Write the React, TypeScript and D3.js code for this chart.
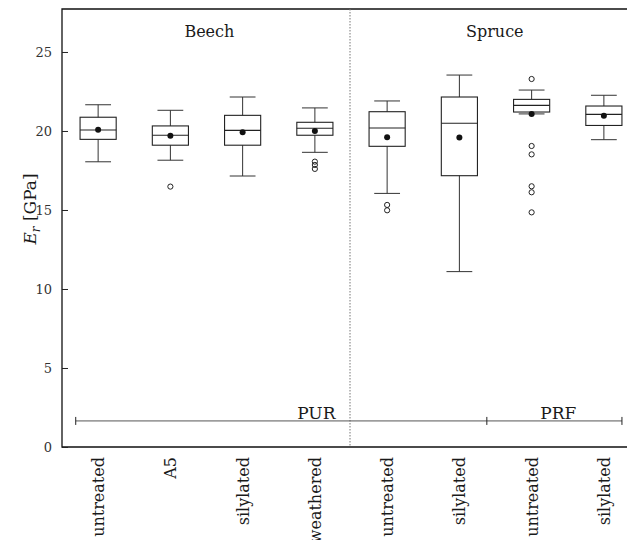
import React, { useEffect, useRef } from 'react';
import * as d3 from 'd3';

// categories along x (Beech: 4, Spruce: 4)
const categories = ['untreated', 'A5', 'silylated', 'weathered', 'untreated', 'silylated', 'untreated', 'silylated'];
const whiskerLow = [18.05, 18.15, 17.15, 18.65, 16.05, 11.1, 21.08, 19.45];
const q1 = [19.47, 19.1, 19.1, 19.73, 19.03, 17.17, 21.2, 20.35];
const median = [20.06, 19.73, 20.04, 20.17, 20.19, 20.49, 21.62, 21.05];
const q3 = [20.87, 20.32, 20.99, 20.55, 21.22, 22.15, 22.0, 21.58];
const whiskerHigh = [21.66, 21.31, 22.15, 21.46, 21.9, 23.54, 22.59, 22.26];
const means = [20.08, 19.7, 19.92, 20.0, 19.6, 19.58, 21.08, 20.97];
const outliers = [[], [16.48], [], [18.06, 17.85, 17.6], [15.32, 14.98], [], [23.29, 19.05, 18.52, 16.5, 16.12, 14.85], []];

const yTicks = [0, 5, 10, 15, 20, 25];
const species = [
  { name: 'Beech', at: 1.54 },
  { name: 'Spruce', at: 5.49 },
];
// adhesive brackets, in category-index units
const adhesives = [
  { name: 'PUR', from: -0.31, to: 5.38, labelAt: 3.02 },
  { name: 'PRF', from: 5.38, to: 7.25, labelAt: 6.37 },
];
const adhesiveLevel = 1.65;

const W = 627;
const H = 540;

const App = () => {
  const svgRef = useRef<SVGSVGElement>(null);

  useEffect(() => {
    const svg = d3.select(svgRef.current);
    svg.selectAll('*').remove();

    const left = 62, top = 9, bottom = 447, right = 640;
    const font = "'DejaVu Serif', 'Liberation Serif', serif";
    const ink = '#1a1a1a';

    const x = d3.scaleBand<number>().domain(d3.range(categories.length)).range([left, right]).padding(0);
    const xi = d3.scaleLinear().domain([0, categories.length - 1])
      .range([x(0)! + x.bandwidth() / 2, x(categories.length - 1)! + x.bandwidth() / 2]);
    const y = d3.scaleLinear().domain([0, 27.72]).range([bottom, top]);

    const g = svg.append('g');

    // frame
    g.append('path')
      .attr('d', `M${right},${top}H${left}V${bottom}H${right}`)
      .attr('fill', 'none').attr('stroke', '#111').attr('stroke-width', 1.3);

    // species divider
    g.append('line')
      .attr('x1', x(4)! - 1).attr('x2', x(4)! - 1).attr('y1', top).attr('y2', bottom)
      .attr('stroke', '#777').attr('stroke-width', 1).attr('stroke-dasharray', '1.5,1.5');

    // y axis
    const yAxis = d3.axisLeft(y).tickValues(yTicks).tickSize(-6).tickPadding(10).tickFormat(d3.format('d'));
    const ya = g.append('g').attr('transform', `translate(${left},0)`).call(yAxis);
    ya.select('.domain').remove();
    ya.selectAll('line').attr('stroke', '#222');
    ya.selectAll('text').attr('font-family', font).attr('font-size', 13).attr('fill', '#333');

    // y title
    const yt = g.append('text')
      .attr('transform', `translate(36,209) rotate(-90)`)
      .attr('text-anchor', 'middle').attr('font-family', font).attr('font-size', 17).attr('fill', ink);
    yt.append('tspan').attr('font-style', 'italic').text('E');
    yt.append('tspan').attr('font-style', 'italic').attr('font-size', 12).attr('dy', 4).text('r');
    yt.append('tspan').attr('dy', -4).text(' [GPa]');

    // species labels
    g.selectAll('.species').data(species).enter().append('text')
      .attr('x', d => xi(d.at)).attr('y', 37)
      .attr('text-anchor', 'middle').attr('font-family', font).attr('font-size', 16).attr('fill', ink)
      .text(d => d.name);

    // boxes
    const bw = x.bandwidth() / 2;
    const cap = x.bandwidth() / 2.8;
    const stroke = '#333';
    categories.forEach((_, i) => {
      const cx = xi(i);
      const b = g.append('g');
      b.append('line').attr('x1', cx).attr('x2', cx).attr('y1', y(q3[i])).attr('y2', y(whiskerHigh[i])).attr('stroke', stroke);
      b.append('line').attr('x1', cx).attr('x2', cx).attr('y1', y(q1[i])).attr('y2', y(whiskerLow[i])).attr('stroke', stroke);
      b.append('line').attr('x1', cx - cap / 2).attr('x2', cx + cap / 2).attr('y1', y(whiskerHigh[i])).attr('y2', y(whiskerHigh[i])).attr('stroke', stroke);
      b.append('line').attr('x1', cx - cap / 2).attr('x2', cx + cap / 2).attr('y1', y(whiskerLow[i])).attr('y2', y(whiskerLow[i])).attr('stroke', stroke);
      b.append('rect').attr('x', cx - bw / 2).attr('width', bw)
        .attr('y', y(q3[i])).attr('height', y(q1[i]) - y(q3[i]))
        .attr('fill', 'none').attr('stroke', '#222').attr('stroke-width', 1.1);
      b.append('line').attr('x1', cx - bw / 2).attr('x2', cx + bw / 2).attr('y1', y(median[i])).attr('y2', y(median[i])).attr('stroke', '#222').attr('stroke-width', 1.1);
      b.selectAll('.out').data(outliers[i]).enter().append('circle')
        .attr('cx', cx).attr('cy', d => y(d)).attr('r', 2.6)
        .attr('fill', 'none').attr('stroke', '#222').attr('stroke-width', 1);
      b.append('circle').attr('cx', cx).attr('cy', y(means[i])).attr('r', 3).attr('fill', '#111');
    });

    // adhesive brackets
    const ly = y(adhesiveLevel);
    adhesives.forEach(a => {
      g.append('line').attr('x1', xi(a.from)).attr('x2', xi(a.to)).attr('y1', ly).attr('y2', ly).attr('stroke', '#555');
      g.append('text').attr('x', xi(a.labelAt)).attr('y', ly - 2)
        .attr('text-anchor', 'middle').attr('font-family', font).attr('font-size', 17).attr('fill', ink)
        .text(a.name);
    });
    const ends = [adhesives[0].from, adhesives[0].to, adhesives[1].to];
    g.selectAll('.endcap').data(ends).enter().append('line')
      .attr('x1', d => xi(d)).attr('x2', d => xi(d)).attr('y1', ly - 4).attr('y2', ly + 4)
      .attr('stroke', '#222');

    // category labels
    g.selectAll('.cat').data(categories).enter().append('text')
      .attr('transform', (d, i) => `translate(${xi(i) + 6},${bottom + 10}) rotate(-90)`)
      .attr('text-anchor', 'end').attr('font-family', font).attr('font-size', 16).attr('fill', ink)
      .text(d => d);
  }, []);

  return (
    <svg ref={svgRef} width={W} height={H} style={{ position: 'absolute', left: 0, top: 0, background: '#fff' }} />
  );
};

export default App;
